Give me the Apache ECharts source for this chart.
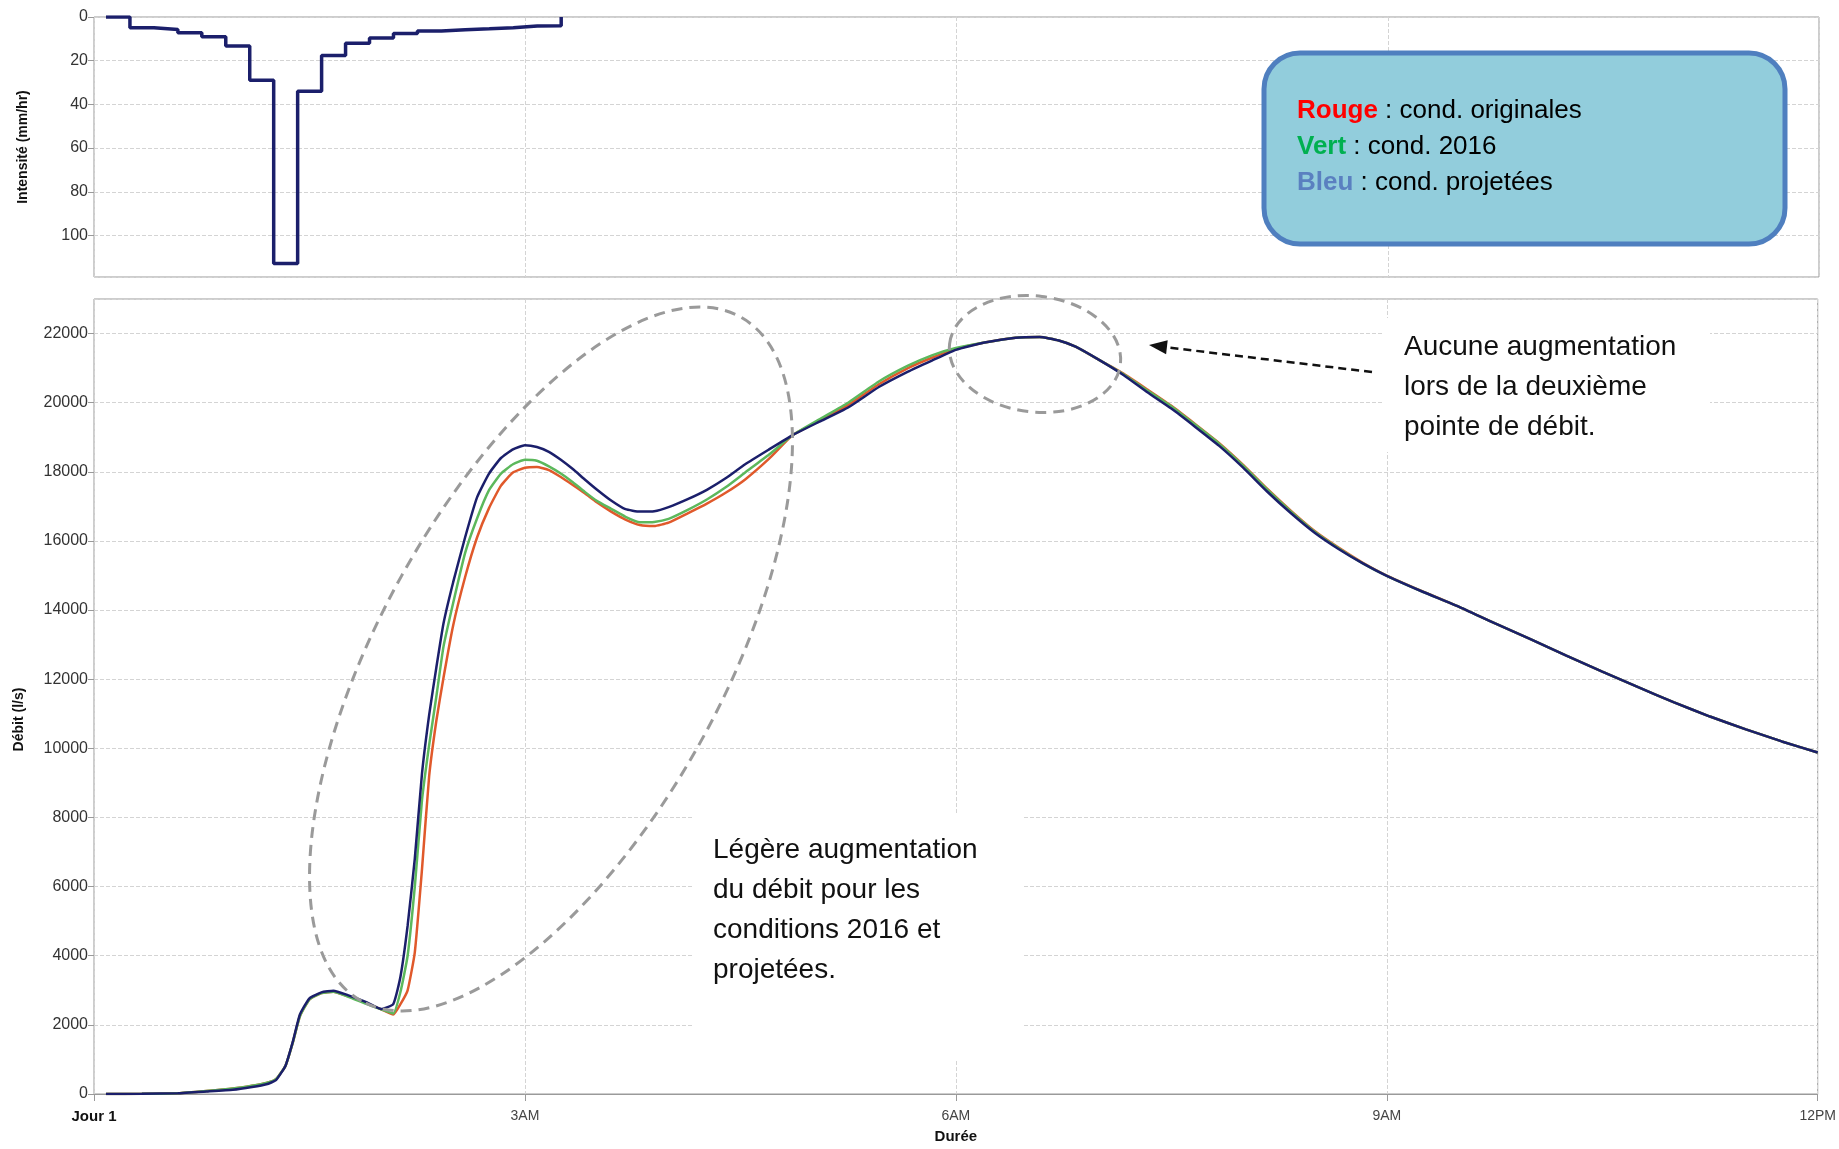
<!DOCTYPE html>
<html>
<head>
<meta charset="utf-8">
<title>Intensité et débit</title>
<script src="https://cdn.jsdelivr.net/npm/echarts@6/dist/echarts.min.js"></script>
<style>
html, body { margin: 0; padding: 0; background: #fff; }
#main { width: 1839px; height: 1149px; }
</style>
</head>
<body>
<div id="main"></div>
<script>
// temps en minutes depuis le début (Jour 1)
var timeMin = [5, 20, 35, 47, 58, 66, 72, 76, 80, 83,
    86, 90, 95, 100, 106, 114, 120, 125, 128, 131,
    134, 137, 140, 143, 146, 150, 155, 160, 165, 170,
    175, 180, 185, 190, 195, 200, 205, 210, 216, 222,
    228, 234, 240, 248, 256, 264, 272, 282, 292, 303,
    315, 328, 340, 350, 360, 372, 385, 395, 403, 410,
    420, 430, 440, 450, 460, 470, 480, 490, 500, 510,
    520, 530, 540, 555, 570, 585, 600, 615, 630, 645,
    660, 675, 690, 705, 720];

// Rouge : cond. originales
var debitOriginal = [0, 5, 25, 90, 160, 240, 320, 430, 820, 1480,
    2250, 2740, 2920, 2960, 2830, 2620, 2450, 2300, 2600, 3000,
    4100, 6500, 9200, 10800, 12050, 13550, 14950, 16100, 16950, 17600,
    17980, 18120, 18140, 18050, 17850, 17620, 17380, 17120, 16850, 16620,
    16460, 16430, 16530, 16800, 17080, 17400, 17780, 18380, 19070, 19480,
    19930, 20540, 21000, 21300, 21550, 21740, 21880, 21900, 21800, 21620,
    21230, 20840, 20380, 19910, 19380, 18830, 18200, 17510, 16870, 16280,
    15800, 15370, 15000, 14540, 14100, 13620, 13160, 12680, 12220, 11770,
    11330, 10920, 10550, 10200, 9880];

// Vert : cond. 2016
var debit2016 = [0, 5, 25, 90, 160, 240, 320, 430, 820, 1480,
    2250, 2740, 2920, 2960, 2820, 2600, 2450, 2330, 2950, 4000,
    6000, 8500, 10100, 11500, 12950, 14200, 15650, 16650, 17470, 17950,
    18220, 18350, 18320, 18160, 17950, 17700, 17420, 17160, 16930, 16700,
    16540, 16550, 16640, 16900, 17200, 17560, 17980, 18500, 19070, 19520,
    20000, 20620, 21070, 21370, 21580, 21740, 21880, 21900, 21800, 21620,
    21230, 20820, 20350, 19890, 19360, 18810, 18180, 17490, 16850, 16260,
    15780, 15350, 14990, 14530, 14100, 13620, 13160, 12680, 12220, 11770,
    11330, 10920, 10550, 10200, 9880];

// Bleu : cond. projetées
var debitProjete = [0, 5, 20, 70, 120, 200, 280, 400, 820, 1500,
    2300, 2770, 2940, 2990, 2860, 2650, 2460, 2600, 3390, 4870,
    6810, 9270, 10970, 12340, 13620, 14800, 16100, 17260, 17950, 18400,
    18650, 18770, 18720, 18580, 18350, 18080, 17780, 17490, 17170, 16920,
    16850, 16860, 16980, 17210, 17480, 17820, 18220, 18650, 19070, 19450,
    19860, 20460, 20900, 21220, 21530, 21740, 21880, 21900, 21800, 21620,
    21230, 20800, 20300, 19830, 19300, 18750, 18120, 17430, 16800, 16230,
    15760, 15350, 14990, 14530, 14100, 13620, 13160, 12680, 12220, 11770,
    11330, 10920, 10550, 10200, 9880];

// hyétogramme : début de chaque pas de 10 min et intensité (mm/hr)
var pluieTemps = [5, 15, 25, 35, 45, 55, 65, 75, 85, 95,
    105, 115, 125, 135, 145, 155, 165, 175, 185, 195];
var pluieIntensite = [0, 4.9, 5.7, 7.2, 9, 13.3, 29, 112.8, 34, 17.6,
    12, 9.6, 7.5, 6.4, 5.8, 5.4, 4.9, 4.1, 4.0, 0];

var xTickLabels = ['Jour 1', '3AM', '6AM', '9AM', '12PM'];

function pairs(xs, ys) {
    return xs.map(function (x, i) { return [x, ys[i]]; });
}

var font = "'Liberation Sans', Arial, sans-serif";
var gridColor = '#d4d4d4';
var frameColor = '#9a9a9a';

var myChart = echarts.init(document.getElementById('main'));

var option = {
    animation: false,
    backgroundColor: '#fff',
    textStyle: { fontFamily: font },
    grid: [
        { left: 94, right: 20, top: 17, height: 260, show: true, borderColor: frameColor, borderWidth: 1 },
        { left: 94, right: 20, top: 299, height: 799, show: true, borderColor: frameColor, borderWidth: 1 }
    ],
    xAxis: [{
        gridIndex: 0,
        type: 'value',
        min: 0, max: 720, interval: 180,
        axisLine: { show: false },
        axisTick: { show: false },
        axisLabel: { show: false },
        splitLine: { show: true, lineStyle: { type: 'dashed', color: gridColor } }
    }, {
        gridIndex: 1,
        type: 'value',
        min: 0, max: 720, interval: 180,
        name: 'Durée',
        nameLocation: 'middle',
        nameGap: 35,
        nameTextStyle: { fontWeight: 'bold', fontSize: 15, color: '#111', fontFamily: font },
        axisLine: { show: true, lineStyle: { color: frameColor } },
        axisTick: { show: true, length: 7, lineStyle: { color: frameColor } },
        axisLabel: {
            margin: 15,
            fontSize: 14,
            color: '#444',
            formatter: function (v) {
                var i = Math.round(v / 180);
                if (i === 0) return '{b|' + xTickLabels[0] + '}';
                return xTickLabels[i];
            },
            rich: { b: { fontWeight: 'bold', fontSize: 15, color: '#111', fontFamily: font } }
        },
        splitLine: { show: true, lineStyle: { type: 'dashed', color: gridColor } }
    }],
    yAxis: [{
        gridIndex: 0,
        type: 'value',
        inverse: true,
        min: 0, max: 119, interval: 20,
        name: 'Intensité (mm/hr)',
        nameLocation: 'middle',
        nameGap: 64,
        nameTextStyle: { fontWeight: 'bold', fontSize: 14, color: '#111', fontFamily: font },
        axisLine: { show: false },
        axisTick: { show: true, length: 6, lineStyle: { color: frameColor } },
        axisLabel: { showMaxLabel: false, fontSize: 16, color: '#333', margin: 6 },
        splitLine: { show: true, lineStyle: { type: 'dashed', color: gridColor } }
    }, {
        gridIndex: 1,
        type: 'value',
        min: 0, max: 23000, interval: 2000,
        name: 'Débit (l/s)',
        nameLocation: 'middle',
        nameGap: 68,
        nameTextStyle: { fontWeight: 'bold', fontSize: 14, color: '#111', fontFamily: font, padding: [0, 46, 0, 0] },
        axisLine: { show: false },
        axisTick: { show: true, length: 6, lineStyle: { color: frameColor } },
        axisLabel: {
            showMaxLabel: false, fontSize: 16, color: '#333', margin: 6,
            formatter: function (v) { return String(v); }
        },
        splitLine: { show: true, lineStyle: { type: 'dashed', color: gridColor } }
    }],
    series: [{
        name: 'Intensité',
        type: 'line',
        xAxisIndex: 0, yAxisIndex: 0,
        step: 'end',
        showSymbol: false,
        data: pairs(pluieTemps, pluieIntensite),
        lineStyle: { color: '#1b1f6b', width: 3.5 },
        z: 3
    }, {
        name: 'Rouge : cond. originales',
        type: 'line',
        xAxisIndex: 1, yAxisIndex: 1,
        smooth: 0.15,
        showSymbol: false,
        data: pairs(timeMin, debitOriginal),
        lineStyle: { color: '#e0592b', width: 2.5 }
    }, {
        name: 'Vert : cond. 2016',
        type: 'line',
        xAxisIndex: 1, yAxisIndex: 1,
        smooth: 0.15,
        showSymbol: false,
        data: pairs(timeMin, debit2016),
        lineStyle: { color: '#5cb85c', width: 2.5 }
    }, {
        name: 'Bleu : cond. projetées',
        type: 'line',
        xAxisIndex: 1, yAxisIndex: 1,
        smooth: 0.15,
        showSymbol: false,
        data: pairs(timeMin, debitProjete),
        lineStyle: { color: '#1b1f6b', width: 2.5 }
    }],
    graphic: [
        // encadré de légende
        {
            type: 'rect', z: 20,
            shape: { x: 1264, y: 53, width: 521, height: 191, r: 36 },
            style: { fill: '#92cddc', stroke: '#4f7fbf', lineWidth: 5 }
        }, {
            type: 'text', z: 21, x: 1297, y: 93,
            style: {
                text: '{r|Rouge} : cond. originales\n{g|Vert} : cond. 2016\n{b|Bleu} : cond. projetées',
                font: '26px ' + font,
                fill: '#000',
                lineHeight: 36,
                verticalAlign: 'top',
                rich: {
                    r: { fill: '#ff0000', fontWeight: 'bold', fontSize: 26, fontFamily: font, lineHeight: 36 },
                    g: { fill: '#00b050', fontWeight: 'bold', fontSize: 26, fontFamily: font, lineHeight: 36 },
                    b: { fill: '#5a80c0', fontWeight: 'bold', fontSize: 26, fontFamily: font, lineHeight: 36 }
                }
            }
        },
        // annotation deuxième pointe
        {
            type: 'rect', z: 20,
            shape: { x: 1382, y: 318, width: 328, height: 134 },
            style: { fill: '#fff' }
        }, {
            type: 'text', z: 21, x: 1404, y: 327,
            style: {
                text: 'Aucune augmentation\nlors de la deuxième\npointe de débit.',
                font: '28px ' + font, fill: '#111', lineHeight: 40, verticalAlign: 'top'
            }
        },
        // annotation première pointe
        {
            type: 'rect', z: 20,
            shape: { x: 694, y: 815, width: 329, height: 246 },
            style: { fill: '#fff' }
        }, {
            type: 'text', z: 21, x: 713, y: 830,
            style: {
                text: 'Légère augmentation\ndu débit pour les\nconditions 2016 et\nprojetées.',
                font: '28px ' + font, fill: '#111', lineHeight: 40, verticalAlign: 'top'
            }
        },
        // ellipses pointillées
        {
            type: 'ellipse', z: 22, x: 551, y: 659, rotation: 61 * Math.PI / 180,
            shape: { cx: 0, cy: 0, rx: 391, ry: 171 },
            style: { fill: 'none', stroke: '#9a9a9a', lineWidth: 3, lineDash: [11, 7] }
        }, {
            type: 'ellipse', z: 22, x: 1035, y: 354, rotation: -0.12,
            shape: { cx: 0, cy: 0, rx: 86, ry: 58 },
            style: { fill: 'none', stroke: '#9a9a9a', lineWidth: 3, lineDash: [11, 7] }
        },
        // flèche
        {
            type: 'line', z: 22,
            shape: { x1: 1372, y1: 372, x2: 1164, y2: 347 },
            style: { stroke: '#111', lineWidth: 2.5, lineDash: [8, 5] }
        }, {
            type: 'polygon', z: 22,
            shape: { points: [[1149, 345], [1167.7, 340.3], [1166.1, 354.2]] },
            style: { fill: '#111' }
        }
    ]
};

myChart.setOption(option);
</script>
</body>
</html>
